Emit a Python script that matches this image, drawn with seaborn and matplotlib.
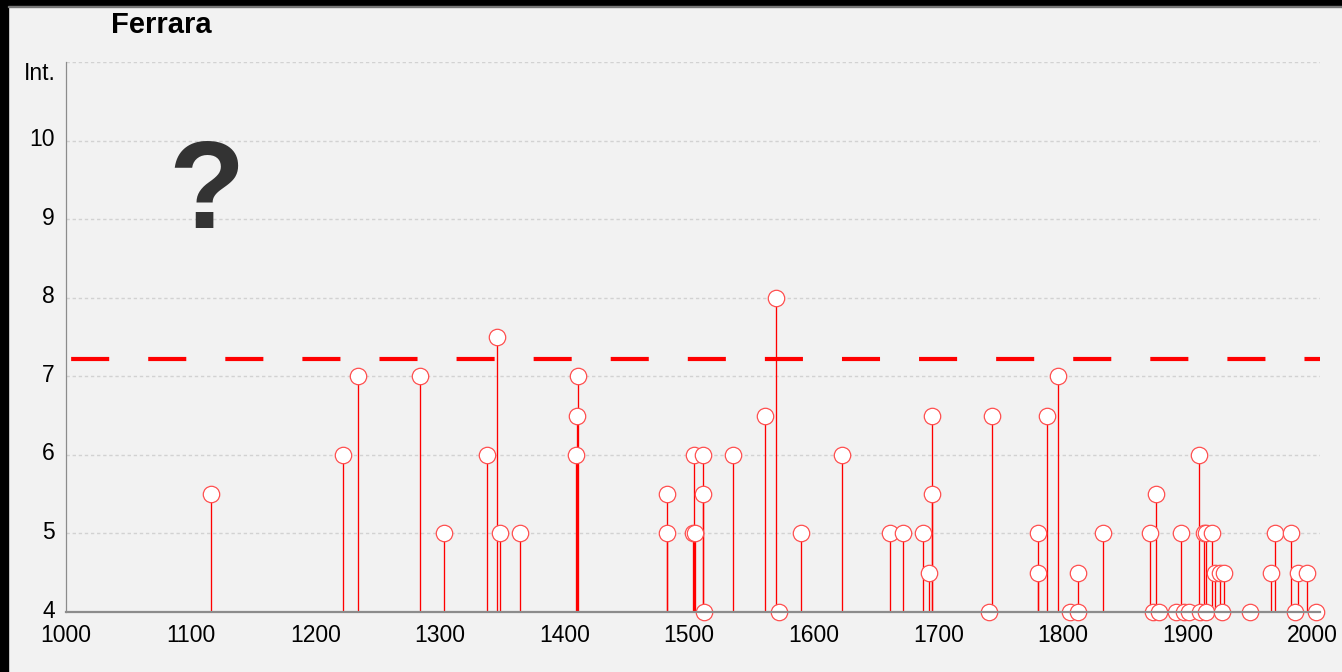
import matplotlib
matplotlib.use("Agg")
import matplotlib.pyplot as plt
import matplotlib.transforms as mtransforms
import seaborn as sns
import pandas as pd
from matplotlib.patches import Rectangle

# Earthquake record: year and intensity
years = [1116, 1222, 1234, 1284, 1303, 1338, 1346, 1348, 1364, 1409, 1410, 1411,
         1482, 1482, 1503, 1504, 1505, 1511, 1511, 1512, 1535, 1561, 1570, 1572,
         1590, 1623, 1661, 1672, 1688, 1693, 1695, 1695, 1741, 1743, 1780, 1780,
         1787, 1796, 1806, 1812, 1812, 1832, 1870, 1872, 1875, 1877, 1891, 1895,
         1897, 1901, 1909, 1910, 1913, 1915, 1915, 1920, 1922, 1926, 1928, 1929,
         1950, 1967, 1970, 1983, 1986, 1989, 1996, 2003]
intensity = [5.5, 6, 7, 7, 5, 6, 7.5, 5, 5, 6, 6.5, 7,
             5.5, 5, 5, 6, 5, 6, 5.5, 4, 6, 6.5, 8, 4,
             5, 6, 5, 5, 5, 4.5, 6.5, 5.5, 4, 6.5, 5, 4.5,
             6.5, 7, 4, 4.5, 4, 5, 5, 4, 5.5, 4, 4, 5,
             4, 4, 6, 4, 5, 5, 4, 5, 4.5, 4.5, 4, 4.5,
             4, 4.5, 5, 5, 4, 4.5, 4.5, 4]
threshold = 7.22
x_major = list(range(1000, 2001, 100))
x_minor = list(range(1050, 2001, 100))
y_ticks = [4, 5, 6, 7, 8, 9, 10, 11]
y_labels = ["4", "5", "6", "7", "8", "9", "10", ""]
title = "Ferrara"
y_title = "Int."

sns.set_style("white")
plt.rcParams["font.family"] = ["Liberation Sans", "DejaVu Sans"]
plt.rcParams["lines.scale_dashes"] = False
plt.rcParams["text.color"] = "black"

BG = "#f2f2f2"
W, H = 1342, 672
fig = plt.figure(figsize=(W / 100, H / 100), dpi=100, facecolor=BG)
ax = fig.add_axes([66 / W, (H - 612) / H, (1320 - 66) / W, (612 - 62) / H])
ax.set_facecolor(BG)
ax.set_xlim(1000, 2006.4)
ax.set_ylim(4, 11)

df = pd.DataFrame({"year": years, "intensity": intensity})

# horizontal dotted grid
ax.yaxis.grid(True, color="#d2d2d2", lw=1.0, linestyle=(0, (2.4, 2.0)))
ax.xaxis.grid(False)
ax.set_axisbelow(True)

# stems
ax.vlines(df["year"], 4, df["intensity"], color="#ff0000", lw=0.95, zorder=3)

# threshold
ax.axhline(threshold, color="#ff0000", lw=3.0,
           linestyle=(51.8, (27.4, 28.1)), zorder=3.5)

# markers
sns.scatterplot(data=df, x="year", y="intensity", ax=ax, s=140, marker="o",
                facecolor="white", edgecolor="#ff5050", linewidth=0.9,
                zorder=4, clip_on=False, legend=False)

ax.set_xlabel("")
ax.set_ylabel("")
ax.set_xticks(x_major)
ax.set_xticklabels([str(v) for v in x_major])
ax.set_xticks(x_minor, minor=True)
ax.set_yticks(y_ticks)
ax.set_yticklabels(y_labels)
ax.tick_params(axis="both", which="both", direction="out", length=2.5,
               width=0.8, color="#555555", labelsize=16.5, labelcolor="black")
ax.tick_params(axis="x", pad=6.0)
ax.tick_params(axis="y", pad=5.5)

# lift the y labels a touch so "4" clears the year labels
lift = mtransforms.ScaledTranslation(0, 2.5 / 72, fig.dpi_scale_trans)
for lbl in ax.get_yticklabels():
    lbl.set_transform(lbl.get_transform() + lift)

for side in ("top", "right"):
    ax.spines[side].set_visible(False)
ax.spines["bottom"].set_color("#8c8c8c")
ax.spines["bottom"].set_linewidth(1.6)
ax.spines["bottom"].set_zorder(5)
ax.spines["left"].set_color("#8c8c8c")
ax.spines["left"].set_linewidth(0.9)

fig.text(56 / W, 1 - 62 / H, y_title, ha="right", va="top", fontsize=16.5,
         color="black")
fig.text(161 / W, 1 - 25 / H, title, ha="center", va="center",
         fontsize=21, fontweight="bold", color="black")
fig.text(206 / W, 1 - 196 / H, "?", ha="center", va="center",
         fontsize=90, fontweight="bold", color="#333333")

# window frame
fig.patches.append(Rectangle((0, 0), 8 / W, 1, transform=fig.transFigure,
                             color="black", zorder=10))
fig.patches.append(Rectangle((0, 1 - 6 / H), 1, 6 / H, transform=fig.transFigure,
                             color="black", zorder=10))
fig.patches.append(Rectangle((8 / W, 1 - 7 / H), 1, 1 / H, transform=fig.transFigure,
                             color="#777777", zorder=10))

fig.savefig("out.png", dpi=100, facecolor=BG)
